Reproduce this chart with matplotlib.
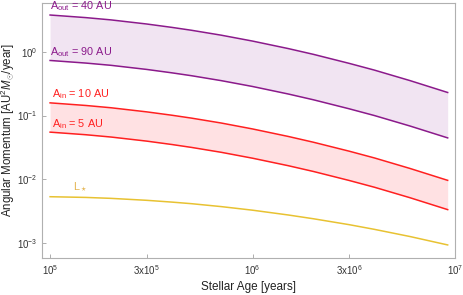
import matplotlib
matplotlib.use("Agg")
import matplotlib.pyplot as plt
import numpy as np

plt.rcParams['font.family'] = ['Liberation Sans', 'DejaVu Sans']
plt.rcParams['mathtext.fontset'] = 'custom'
plt.rcParams['mathtext.rm'] = 'Liberation Sans'
plt.rcParams['mathtext.it'] = 'Liberation Sans:italic'
plt.rcParams['mathtext.bf'] = 'Liberation Sans:bold'

# Data
age = [1e5, 1.5e5, 2e5, 3e5, 4e5, 5e5, 7e5, 1e6, 1.5e6, 2e6, 3e6, 4e6, 6e6, 9.2e6]
L_out40 = [3.745, 3.411, 3.140, 2.709, 2.397, 2.160, 1.811, 1.464, 1.118, 0.907,
           0.656, 0.514, 0.352, 0.2296]
L_out90 = [0.728, 0.663, 0.611, 0.527, 0.466, 0.420, 0.352, 0.285, 0.2175, 0.1764,
           0.1276, 0.1000, 0.0685, 0.0447]
L_in10 = [0.158, 0.1438, 0.1324, 0.1142, 0.1011, 0.0911, 0.0764, 0.0617, 0.0471, 0.0382,
          0.0277, 0.0217, 0.01484, 0.00968]
L_in5 = [0.0550, 0.0501, 0.0461, 0.0398, 0.0352, 0.0317, 0.0266, 0.0215, 0.01642, 0.01332,
         0.00964, 0.00755, 0.00517, 0.00337]
L_star = [0.005366, 0.005232, 0.005057, 0.004714, 0.004418, 0.004173, 0.003758, 0.003302,
          0.002779, 0.002424, 0.001960, 0.001655, 0.001277, 0.000944]

xticks = [1e5, 3e5, 1e6, 3e6, 1e7]
xticklabels = [r'$10^{5}$', r'3x$10^{5}$', r'$10^{6}$', r'3x$10^{6}$', r'$10^{7}$']
yticks = [1e-3, 1e-2, 1e-1, 1e0]
yticklabels = [r'$10^{-3}$', r'$10^{-2}$', r'$10^{-1}$', r'$10^{0}$']

purple = '#8b1a8b'
red = '#ff2020'
gold = '#e8c232'

fig = plt.figure(figsize=(4.64, 2.95), dpi=100)
ax = fig.add_axes([0.0905, 0.1264, 0.8901, 0.8644])

ax.set_xscale('log')
ax.set_yscale('log')
ax.set_xlim(10**4.960, 1e7)
ax.set_ylim(10**-3.225, 10**0.766)

ax.fill_between(age, L_out90, L_out40, color='#f1e4f2', lw=0)
ax.fill_between(age, L_in5, L_in10, color='#ffe1e3', lw=0)
ax.plot(age, L_out40, color=purple, lw=1.1)
ax.plot(age, L_out90, color=purple, lw=1.1)
ax.plot(age, L_in10, color=red, lw=1.1)
ax.plot(age, L_in5, color=red, lw=1.1)
ax.plot(age, L_star, color=gold, lw=1.1)

fs_lab = 7.8
ax.text(1.0e5, L_out40[0] * 1.06, r'A$_{\rm out}$ = 40 AU', color=purple, fontsize=fs_lab, va='bottom', ha='left')
ax.text(1.0e5, L_out90[0] * 1.06, r'A$_{\rm out}$ = 90 AU', color=purple, fontsize=fs_lab, va='bottom', ha='left')
ax.text(1.02e5, L_in10[0] * 1.06, r'A$_{\rm in}$ = 10 AU', color=red, fontsize=fs_lab, va='bottom', ha='left')
ax.text(1.02e5, L_in5[0] * 1.06, r'A$_{\rm in}$ = 5 AU', color=red, fontsize=fs_lab, va='bottom', ha='left')
ax.text(1.3e5, L_star[0] * 1.1, r'L$_\star$', color='#e4b450', fontsize=fs_lab, va='bottom', ha='left')

ax.set_xticks(xticks)
ax.set_xticklabels(xticklabels)
ax.set_yticks(yticks)
ax.set_yticklabels(yticklabels)
ax.minorticks_off()
ax.tick_params(axis='both', direction='in', length=3, width=0.6, color='#a0a0a0',
               labelsize=7.0, labelcolor='#333333')
ax.tick_params(axis='x', pad=4)
ax.tick_params(axis='y', pad=3)

for s in ax.spines.values():
    s.set_color('#b0b0b0')
    s.set_linewidth(0.8)

ax.set_xlabel('Stellar Age [years]', fontsize=8.5, color='#222222', labelpad=3)
ax.set_ylabel(r'Angular Momentum [AU$^2$$M_{\odot}$/year]', fontsize=8.3, color='#222222',
              va='center')
ax.yaxis.set_label_coords(-0.083, 0.5)

fig.savefig('out.png', dpi=100)
